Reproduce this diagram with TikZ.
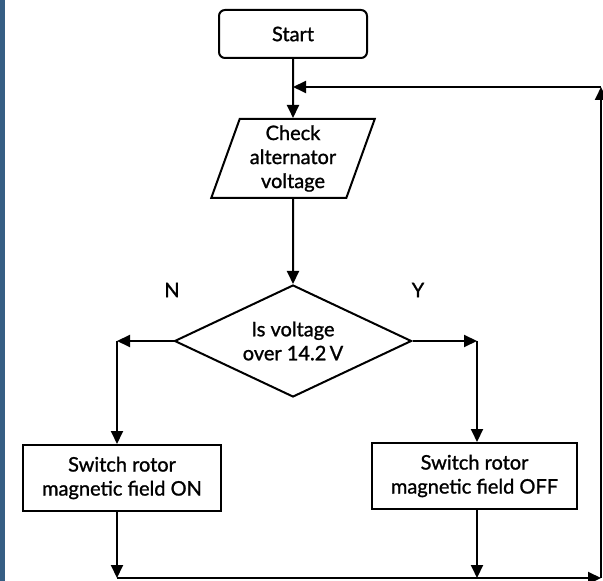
\documentclass[tikz,border=0pt]{standalone}
\usepackage{fontspec}
\setmainfont{Lato}[FakeBold=1.2]
\usepackage{tikz}
\usetikzlibrary{shapes.geometric,arrows.meta,calc,positioning}
\definecolor{edgeblue}{RGB}{54,94,132}
\begin{document}
\begin{tikzpicture}[x=0.5pt,y=-0.5pt,line width=1pt,
                box/.style={draw,rectangle,align=center,inner sep=1pt,minimum height=33pt},
                arr/.style={-{Triangle[length=6.5pt,width=6pt]}}]
                \useasboundingbox (0,0) rectangle (603,581);
                \fill[edgeblue] (0,0) rectangle (5,581);
                \node[box,rounded corners=3pt,minimum width=74pt,minimum height=24pt] (s) at (293,34) {Start};
                \node[draw,trapezium,trapezium left angle=68,trapezium right angle=112,trapezium stretches body,
                    minimum width=81.75pt,minimum height=39.5pt,inner sep=1pt,align=center] (chk) at (293,158.5) {Check\\alternator\\voltage};
                \node[draw,diamond,aspect=2.12,minimum width=118.5pt,minimum height=56pt,inner sep=0pt,align=center] (q) at (293,341) {Is voltage\\over 14.2\,V};
                \node[box,minimum width=99pt] (on) at (122,478) {Switch rotor\\magnetic field ON};
                \node[box,minimum width=102.5pt] (off) at (474.5,476) {Switch rotor\\magnetic field OFF};
                \node (ln) at (172,290) {N};
                \node (ly) at (418,290) {Y};
                \coordinate (nl) at (117,341);
                \coordinate (nr) at (477,341);
                \coordinate (bl) at (117,578);
                \coordinate (br) at (601,578);
                \coordinate (tr) at (601,87);
                \coordinate (jn) at (293,87);
                \draw[arr] (s) -- (chk);
                \draw[arr] (chk) -- (q);
                \draw[arr] (q.west) -- (nl);
                \draw[arr] (nl) -- (nl |- on.north);
                \draw[arr] (q.east) -- (nr);
                \draw[arr] (nr) -- (nr |- off.north);
                \draw[arr] (on.south -| bl) -- (bl);
                \draw[arr] (off.south -| nr) -- (nr |- bl);
                \draw[arr] (bl) -- (br);
                \draw[arr] (br) -- (tr);
                \draw[arr] (tr) -- (jn);
            \end{tikzpicture}
\end{document}
